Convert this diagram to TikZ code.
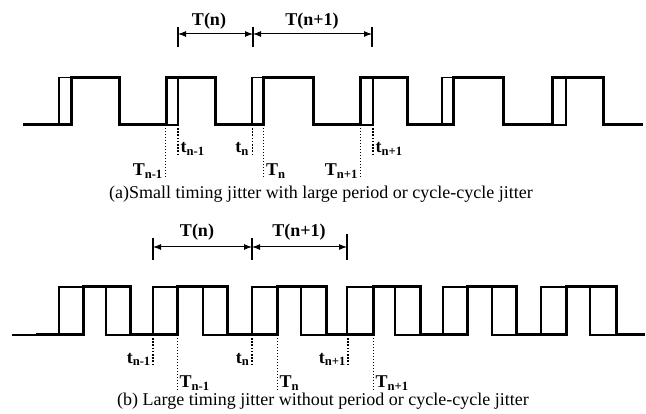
\documentclass[tikz,border=0pt]{standalone}
\usepackage{fontspec}
\setmainfont{Liberation Serif}
\usetikzlibrary{arrows.meta}
\tikzset{
 thinw/.style={line width=1.1pt, line join=miter},
 thickw/.style={line width=3pt, line join=miter},
 tickln/.style={line width=1.2pt},
 dimarrow/.style={line width=1pt, {Latex[length=8pt,width=6pt]}-{Latex[length=8pt,width=6pt]}},
 tdot/.style={line width=1.8pt, dash pattern=on 1.6pt off 1.6pt},
 Tdot/.style={line width=1pt, dash pattern=on 1pt off 2pt},
 lbl/.style={font=\bfseries\fontsize{18}{20}\selectfont, inner sep=0pt},
 captxt/.style={font=\fontsize{18}{20}\selectfont, inner sep=0pt},
}
\begin{document}
\begin{tikzpicture}[x=1pt,y=-1pt]
\useasboundingbox (0,0) rectangle (646,414);

% ---------------- (a) ----------------
\draw[thinw] (23,125) -| (59,77.5) -| (119,125) -| (178,77.5) -| (215,125) -| (252,77.5) -| (313,125) -| (373,77.5) -| (407,125) -| (442,77.5) -| (503,125) -| (566,77.5) -| (603,125) -- (643,125);
\draw[thickw] (23,125) -| (71,77.5) -| (119,125) -| (166,77.5) -| (215,125) -| (263,77.5) -| (313,125) -| (360,77.5) -| (407,125) -| (453,77.5) -| (503,125) -| (552,77.5) -| (603,125) -- (643,125);

% period arrows (a)
\coordinate (a1t) at (178,27); \coordinate (a1b) at (178,47);
\coordinate (a2t) at (253,27); \coordinate (a2b) at (253,47);
\coordinate (a3t) at (372,27); \coordinate (a3b) at (372,47);
\coordinate (a1m) at (178,34); \coordinate (a2m) at (253,34); \coordinate (a3m) at (372,34);
\draw[tickln] (a1t) -- (a1b);
\draw[tickln] (a2t) -- (a2b);
\draw[tickln] (a3t) -- (a3b);
\draw[dimarrow] (a1m) -- (a2m);
\draw[dimarrow] (a2m) -- (a3m);
\node[lbl, anchor=base] (aTn) at (209,26) {T(n)};
\node[lbl, anchor=base] (aTn1) at (312,26) {T(n+1)};

% dotted markers (a)
\coordinate (aT1s) at (165,128); \coordinate (aT1e) at (165,177);
\coordinate (at1s) at (178,128); \coordinate (at1e) at (178,155);
\coordinate (at2s) at (252.5,128); \coordinate (at2e) at (252.5,155);
\coordinate (aT2s) at (263,128); \coordinate (aT2e) at (263,177);
\coordinate (aT3s) at (360,128); \coordinate (aT3e) at (360,177);
\coordinate (at3s) at (373,128); \coordinate (at3e) at (373,155);
\draw[Tdot] (aT1s) -- (aT1e);
\draw[tdot] (at1s) -- (at1e);
\draw[tdot] (at2s) -- (at2e);
\draw[Tdot] (aT2s) -- (aT2e);
\draw[Tdot] (aT3s) -- (aT3e);
\draw[tdot] (at3s) -- (at3e);
\node[lbl, anchor=base east] (laT1) at (163,176) {T\textsubscript{n-1}};
\node[lbl, anchor=base west] (lat1) at (180.5,153) {t\textsubscript{n-1}};
\node[lbl, anchor=base east] (lat2) at (249,153) {t\textsubscript{n}};
\node[lbl, anchor=base west] (laT2) at (266,176) {T\textsubscript{n}};
\node[lbl, anchor=base east] (laT3) at (358,176) {T\textsubscript{n+1}};
\node[lbl, anchor=base west] (lat3) at (375.5,153) {t\textsubscript{n+1}};

\node[captxt, anchor=base] (capa) at (321,199) {(a)Small timing jitter with large period or cycle-cycle jitter};

% ---------------- (b) ----------------
\draw[thinw] (12,335) -| (59,287) -| (106,335) -| (153,287) -| (203,335) -| (252,287) -| (301,335) -| (347,287) -| (395,335) -| (443,287) -| (492,335) -| (541,287) -| (590,335) -- (645,335);
\draw[thickw] (36,335) -| (83,287) -| (130,335) -| (177,287) -| (227,335) -| (277,287) -| (326,335) -| (373,287) -| (420,335) -| (467,287) -| (516,335) -| (566,287) -| (616,335) -- (645,335);

% period arrows (b)
\coordinate (b1t) at (153,238); \coordinate (b1b) at (153,260);
\coordinate (b2t) at (252,238); \coordinate (b2b) at (252,260);
\coordinate (b3t) at (347,234); \coordinate (b3b) at (347,260);
\coordinate (b1m) at (153,247); \coordinate (b2m) at (252,247); \coordinate (b3m) at (347,247);
\draw[tickln] (b1t) -- (b1b);
\draw[tickln] (b2t) -- (b2b);
\draw[tickln] (b3t) -- (b3b);
\draw[dimarrow] (b1m) -- (b2m);
\draw[dimarrow] (b2m) -- (b3m);
\node[lbl, anchor=base] (bTn) at (197,237) {T(n)};
\node[lbl, anchor=base] (bTn1) at (299,237) {T(n+1)};

% dotted markers (b)
\coordinate (bt1s) at (153,338); \coordinate (bt1e) at (153,365);
\coordinate (bT1s) at (177,338); \coordinate (bT1e) at (177,390);
\coordinate (bt2s) at (252,338); \coordinate (bt2e) at (252,365);
\coordinate (bT2s) at (277,338); \coordinate (bT2e) at (277,390);
\coordinate (bt3s) at (348,338); \coordinate (bt3e) at (348,365);
\coordinate (bT3s) at (373,338); \coordinate (bT3e) at (373,390);
\draw[tdot] (bt1s) -- (bt1e);
\draw[Tdot] (bT1s) -- (bT1e);
\draw[tdot] (bt2s) -- (bt2e);
\draw[Tdot] (bT2s) -- (bT2e);
\draw[tdot] (bt3s) -- (bt3e);
\draw[Tdot] (bT3s) -- (bT3e);
\node[lbl, anchor=base east] (lbt1) at (151,363) {t\textsubscript{n-1}};
\node[lbl, anchor=base west] (lbT1) at (179.5,388) {T\textsubscript{n-1}};
\node[lbl, anchor=base east] (lbt2) at (249.5,363) {t\textsubscript{n}};
\node[lbl, anchor=base west] (lbT2) at (279.5,388) {T\textsubscript{n}};
\node[lbl, anchor=base east] (lbt3) at (346,363) {t\textsubscript{n+1}};
\node[lbl, anchor=base west] (lbT3) at (375.5,388) {T\textsubscript{n+1}};

\node[captxt, anchor=base] (capb) at (323,406) {(b) Large timing jitter without period or cycle-cycle jitter};
\end{tikzpicture}
\end{document}
